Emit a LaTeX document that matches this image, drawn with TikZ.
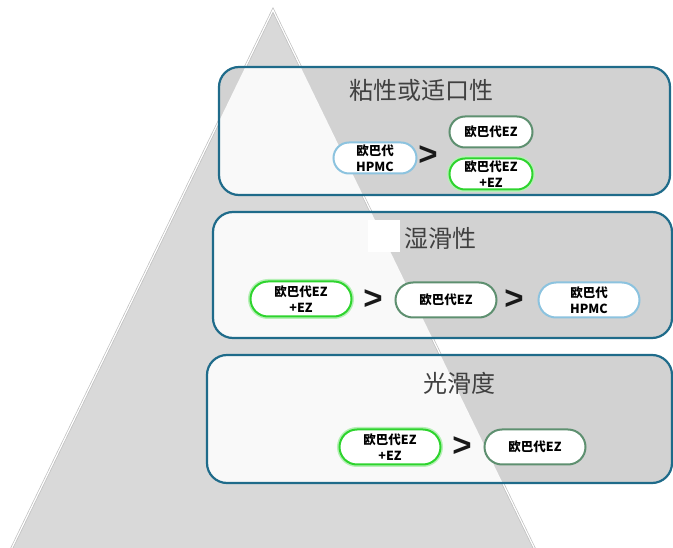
\documentclass[tikz,border=0pt]{standalone}
\usepackage{fontspec}
\setmainfont{Liberation Sans}
\newfontfamily\cjk{Noto Sans CJK SC}
\usetikzlibrary{positioning}

\definecolor{pyrgrey}{HTML}{D9D9D9}
\definecolor{boxgrey}{HTML}{D2D2D2}
\definecolor{boxwhite}{HTML}{F9F9F9}
\definecolor{boxline}{HTML}{1F6B8A}
\definecolor{hpmcblue}{HTML}{8CC3DF}
\definecolor{ezgreen}{HTML}{5E9070}
\definecolor{glowgreen}{HTML}{2ED42E}

\tikzset{
  pill/.style={draw, fill=white, line width=2, align=center, inner sep=0,
    font=\cjk\bfseries\fontsize{12.5}{15.5}\selectfont},
  small/.style={minimum width=83, minimum height=31, rounded corners=15.5},
  large/.style={minimum width=101, minimum height=35, rounded corners=17.5},
  hpmc/.style={pill, draw=hpmcblue},
  ez/.style={pill, draw=ezgreen},
  ezez/.style={pill, draw=glowgreen, preaction={draw=glowgreen!35, line width=5}},
  gt/.style={font=\bfseries\fontsize{33}{33}\selectfont, text=black!90, inner sep=0},
  title/.style={font=\cjk\fontsize{24}{24}\selectfont, text=black!75}
}

\begin{document}
\begin{tikzpicture}[x=1pt, y=-1pt]
  \useasboundingbox (0,0) rectangle (673,548);

  % pyramid
  \fill[pyrgrey] (273,10) -- (6,560) -- (540,560) -- cycle;
  \draw[black!25, line width=2.6] (273,10) -- (6,560) -- (540,560) -- cycle;
  \draw[white, line width=1.2] (273,10) -- (6,560) -- (540,560) -- cycle;

  % boxes, lighter where they lie on the pyramid
  \foreach \xa/\ya/\xb/\yb in {219/67/670/195, 213/212/672/338, 207/355/672/483} {
    \fill[boxgrey, rounded corners=20] (\xa,\ya) rectangle (\xb,\yb);
    \begin{scope}
      \clip (273,10) -- (6,560) -- (540,560) -- cycle;
      \fill[boxwhite, rounded corners=20] (\xa,\ya) rectangle (\xb,\yb);
    \end{scope}
    \draw[boxline, line width=2.2, rounded corners=20] (\xa,\ya) rectangle (\xb,\yb);
  }
  \fill[white] (368,220) rectangle (400,252);

  % box 1
  \node[title] (visc) at (421,90) {粘性或适口性};
  \node[hpmc, small] (vhpmc) at (375,158) {欧巴代\\HPMC};
  \node[gt] (vgt) at (428,156) {>};
  \node[ez, small] (vez) at (491,132) {欧巴代EZ};
  \node[ezez, small] (vezez) at (491,174) {欧巴代EZ\\+EZ};

  % box 2
  \node[title] (slip) at (440,238) {湿滑性};
  \node[ezez, large] (sezez) at (301,299) {欧巴代EZ\\+EZ};
  \node[gt] (sgta) at (373,300) {>};
  \node[ez, large] (sez) at (446,300) {欧巴代EZ};
  \node[gt] (sgtb) at (514,300) {>};
  \node[hpmc, large] (shpmc) at (589,300) {欧巴代\\HPMC};

  % box 3
  \node[title] (gloss) at (459,383) {光滑度};
  \node[ezez, large] (gezez) at (390,447) {欧巴代EZ\\+EZ};
  \node[gt] (ggt) at (462,447) {>};
  \node[ez, large] (gez) at (535,447) {欧巴代EZ};
\end{tikzpicture}
\end{document}
